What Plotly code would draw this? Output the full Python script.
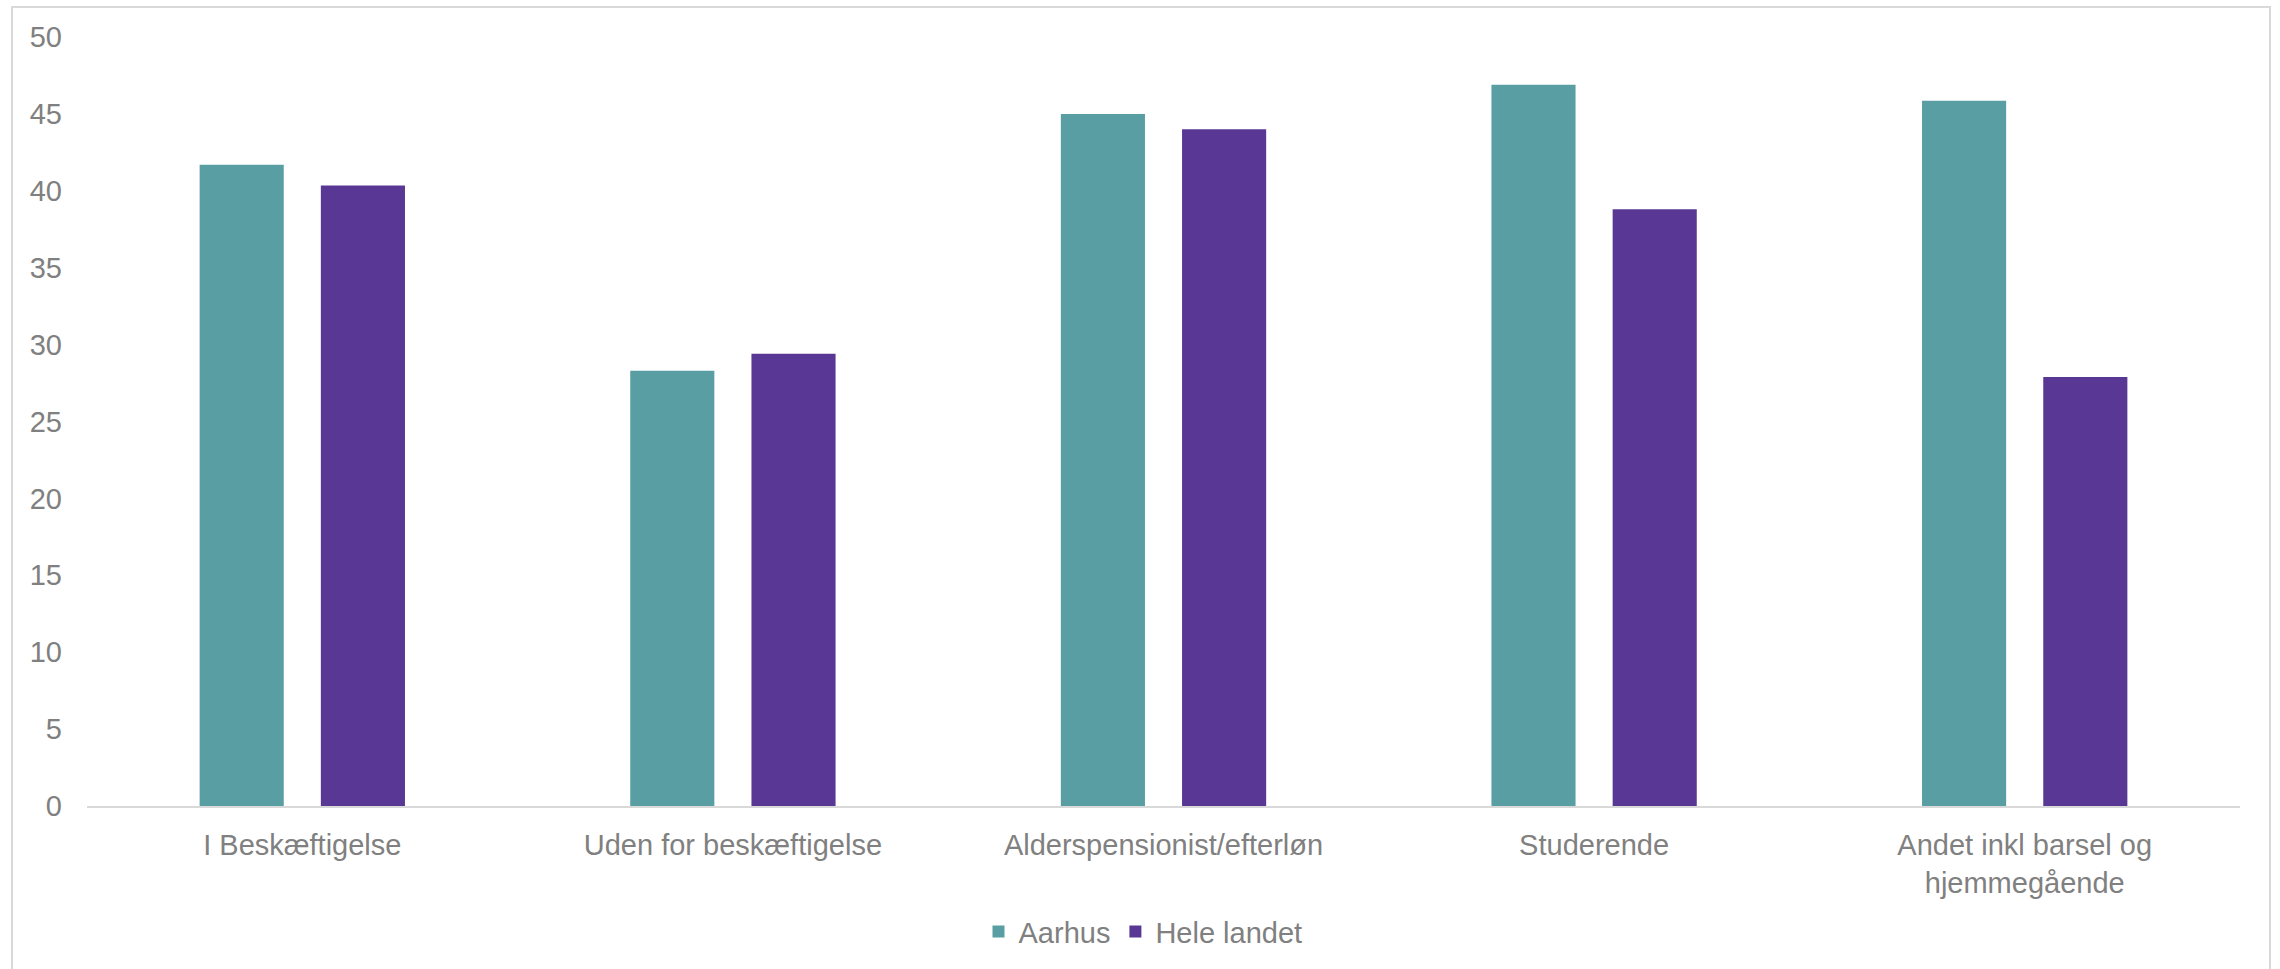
import plotly.graph_objects as go

categories = ["I Beskæftigelse", "Uden for beskæftigelse", "Alderspensionist/efterløn",
              "Studerende", "Andet inkl barsel og<br>hjemmegående"]
aarhus = [41.7, 28.3, 45.0, 46.9, 45.85]
hele_landet = [40.35, 29.4, 44.0, 38.8, 27.9]
y_ticks = [0, 5, 10, 15, 20, 25, 30, 35, 40, 45, 50]

TEAL = "#589EA3"
PURPLE = "#583894"
GREY = "#808080"
FONT = "Liberation Sans, Arial, sans-serif"

W, H = 2280, 969
L, R, T, B = 87, 40, 37, 161
pw = W - L - R
ph = H - T - B

fig = go.Figure()
fig.add_trace(go.Bar(name="Aarhus", x=categories, y=aarhus, marker=dict(color=TEAL, line=dict(width=0))))
fig.add_trace(go.Bar(name="Hele landet", x=categories, y=hele_landet, marker=dict(color=PURPLE, line=dict(width=0))))

def px_to_paper_x(px):
    return (px - L) / pw

def px_to_paper_y(py):
    return (H - B - py) / ph

fig.update_layout(
    width=W, height=H,
    margin=dict(l=L, r=R, t=T, b=B, pad=0),
    paper_bgcolor="white", plot_bgcolor="white",
    barmode="group", bargap=0.437, bargroupgap=0.306,
    font=dict(family=FONT, color=GREY, size=29),
    showlegend=True,
    legend=dict(orientation="h", x=px_to_paper_x(1143), xanchor="center", y=px_to_paper_y(934), yanchor="middle",
                font=dict(size=29, color=GREY), itemwidth=30, traceorder="normal",
                bgcolor="rgba(0,0,0,0)"),
    xaxis=dict(showgrid=False, showline=True, linecolor="#D9D9D9", linewidth=2,
               ticks="", tickfont=dict(size=29, color=GREY), ticklabelstandoff=12,
               fixedrange=True),
    yaxis=dict(range=[0, 50], tickvals=y_ticks, showgrid=False, zeroline=False, showline=False,
               ticks="", tickfont=dict(size=29, color=GREY), ticklabelstandoff=24,
               fixedrange=True),
    shapes=[dict(type="rect", xref="paper", yref="paper",
                 x0=px_to_paper_x(12), x1=px_to_paper_x(2270),
                 y0=px_to_paper_y(1000), y1=px_to_paper_y(7),
                 line=dict(color="#D9D9D9", width=2), fillcolor="rgba(0,0,0,0)", layer="below")],
)

fig.write_html("out.html", config={"displayModeBar": False},
               post_script="document.body.style.margin='0';")
